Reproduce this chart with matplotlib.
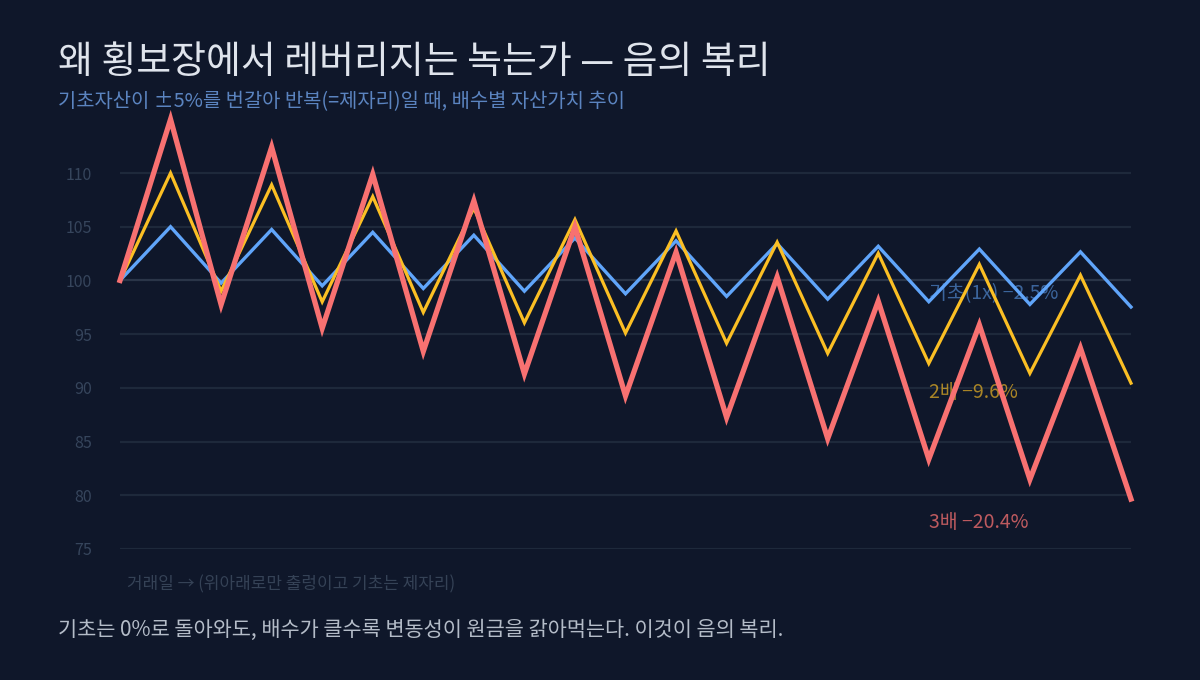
import matplotlib
matplotlib.use("Agg")
import matplotlib.pyplot as plt

plt.rcParams['font.family'] = ['Noto Sans CJK KR', 'DejaVu Sans']

days = list(range(21))
base_1x = [100, 105, 99.75, 104.74, 99.50, 104.48, 99.25, 104.21, 99.00, 103.95,
           98.76, 103.69, 98.51, 103.43, 98.26, 103.18, 98.02, 102.92, 97.77, 102.66, 97.53]
lev_2x = [100, 110, 99.0, 108.9, 98.01, 107.81, 97.03, 106.73, 96.06, 105.67,
          95.10, 104.61, 94.15, 103.56, 93.21, 102.53, 92.27, 101.50, 91.35, 100.49, 90.44]
lev_3x = [100, 115, 97.75, 112.41, 95.55, 109.88, 93.40, 107.41, 91.30, 104.99,
          89.25, 102.63, 87.24, 100.32, 85.27, 98.07, 83.36, 95.86, 81.48, 93.70, 79.65]
yticks = [75, 80, 85, 90, 95, 100, 105, 110]
labels = ["기초(1x) −2.5%", "2배 −9.6%", "3배 −20.4%"]

BG = "#0f172a"
C1, C2, C3 = "#60a5fa", "#fbbf24", "#f87171"

fig = plt.figure(figsize=(12, 6.8), dpi=100, facecolor=BG)
ax = fig.add_axes([0.1, 1 - 549 / 680, 0.9425 - 0.1, (549 - 119.3) / 680])
ax.set_facecolor(BG)
ax.set_xlim(0, 20)
ax.set_ylim(75, 115)

for t in yticks:
    ax.axhline(t, color="#2a3548" if t == 100 else "#1e293b", lw=1.6, zorder=1)

ax.plot(days, base_1x, color=C1, lw=2.4, zorder=3, clip_on=False, solid_joinstyle='miter')
ax.plot(days, lev_2x, color=C2, lw=2.3, zorder=4, clip_on=False, solid_joinstyle='miter')
ax.plot(days, lev_3x, color=C3, lw=3.8, zorder=5, clip_on=False, solid_joinstyle='miter')

ax.text(16, 98.8, labels[0], color=C1, alpha=0.55, fontsize=14, va='center', ha='left', zorder=2)
ax.text(16, 89.6, labels[1], color=C2, alpha=0.65, fontsize=14, va='center', ha='left', zorder=2)
ax.text(16, 77.5, labels[2], color=C3, alpha=0.75, fontsize=14, va='center', ha='left', zorder=2)

ax.set_yticks(yticks)
ax.set_yticklabels([str(t) for t in yticks])
ax.set_xticks([])
ax.tick_params(axis='y', length=0, pad=20, labelsize=11.5, labelcolor="#36455c")
for s in ax.spines.values():
    s.set_visible(False)

fig.text(58 / 1200, 1 - 62 / 680, "왜 횡보장에서 레버리지는 녹는가 — 음의 복리",
         color="#dfe4ec", fontsize=27.3, va='center', ha='left')
fig.text(58 / 1200, 1 - 102 / 680, "기초자산이 ±5%를 번갈아 반복(=제자리)일 때, 배수별 자산가치 추이",
         color="#5b84c0", fontsize=14.3, va='center', ha='left')
fig.text(127 / 1200, 1 - 584 / 680, "거래일 → (위아래로만 출렁이고 기초는 제자리)",
         color="#354256", fontsize=12.2, va='center', ha='left')
fig.text(58 / 1200, 1 - 630 / 680, "기초는 0%로 돌아와도, 배수가 클수록 변동성이 원금을 갉아먹는다. 이것이 음의 복리.",
         color="#b4bcc8", fontsize=15, va='center', ha='left')

fig.savefig("out.png", dpi=100, facecolor=BG)
